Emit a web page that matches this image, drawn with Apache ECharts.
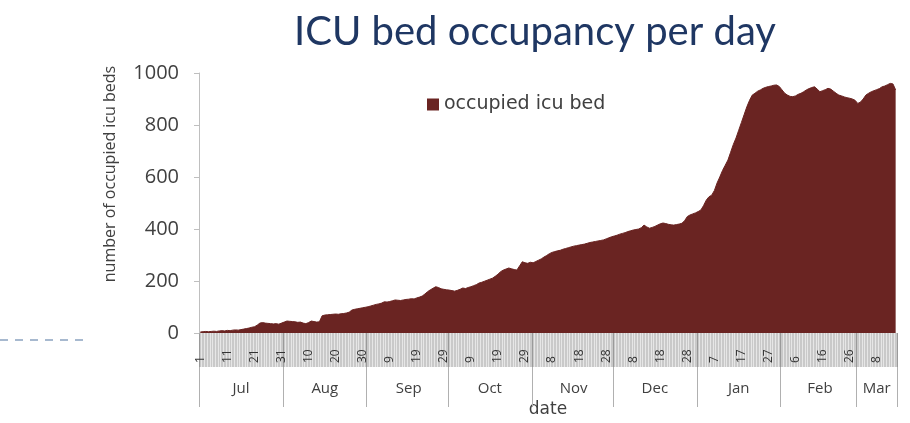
<!DOCTYPE html>
<html>
<head>
<meta charset="utf-8">
<title>ICU bed occupancy per day</title>
<script src="https://cdn.jsdelivr.net/npm/echarts@6/dist/echarts.min.js"></script>
<style>
  html, body { margin: 0; padding: 0; background: #fff; }
  #chart { width: 910px; height: 423px; }
</style>
</head>
<body>
<div id="chart"></div>
<script>
// occupied icu beds per day (Jul 2020 - Mar 2021)
var jul = [4, 5, 6, 5, 6, 7, 6, 8, 9, 8, 10, 9, 11, 12, 11, 13, 15, 17, 19, 22, 24, 30, 38, 40, 38, 37, 36, 35, 36, 34, 38]
var aug = [42, 46, 45, 44, 43, 41, 42, 38, 36, 40, 46, 44, 42, 43, 66, 69, 70, 71, 72, 73, 72, 74, 75, 77, 80, 88, 91, 93, 95, 97, 99]
var sep = [101, 104, 107, 110, 112, 115, 120, 119, 121, 124, 127, 126, 125, 127, 129, 130, 132, 131, 135, 138, 142, 150, 159, 166, 172, 178, 175, 170, 168, 166]
var oct = [165, 163, 161, 164, 168, 173, 171, 175, 178, 182, 186, 192, 195, 199, 203, 207, 211, 218, 226, 236, 242, 246, 250, 247, 244, 242, 258, 274, 270, 268, 272]
var nov = [270, 275, 280, 285, 292, 298, 305, 310, 313, 316, 318, 322, 325, 328, 331, 334, 336, 338, 340, 342, 345, 348, 350, 352, 354, 356, 358, 362, 366, 370]
var dec = [373, 376, 380, 383, 386, 390, 393, 396, 398, 400, 405, 415, 408, 403, 406, 410, 415, 420, 423, 421, 418, 416, 415, 417, 419, 422, 432, 448, 454, 458, 462]
var jan = [467, 473, 490, 511, 524, 530, 548, 577, 600, 625, 645, 665, 695, 725, 750, 780, 810, 840, 870, 895, 915, 922, 930, 935, 941, 945, 948, 950, 953, 954, 948]
var feb = [935, 922, 915, 910, 909, 912, 918, 922, 928, 935, 940, 944, 947, 938, 928, 932, 936, 941, 938, 930, 922, 915, 912, 908, 905, 903, 900, 895]
var mar = [883, 888, 900, 915, 922, 928, 932, 936, 940, 947, 950, 955, 960, 958, 935]

var monthNames = ['Jul', 'Aug', 'Sep', 'Oct', 'Nov', 'Dec', 'Jan', 'Feb', 'Mar']
var monthData = [jul, aug, sep, oct, nov, dec, jan, feb, mar]

var dates = []
var dayOfMonth = []
var monthStart = {}
var monthMid = {}
var values = []
monthData.forEach(function(arr, m) {
  monthStart[dates.length] = true
  monthMid[dates.length + Math.floor(arr.length / 2)] = monthNames[m]
  arr.forEach(function(v, d) {
    dates.push(monthNames[m] + ' ' + (d + 1))
    dayOfMonth.push(d + 1)
    values.push(v)
  })
})

var myChart = echarts.init(document.getElementById('chart'), null, { renderer: 'canvas' })

var labelFont = 'Open Sans'
var maroon = '#6a2422'

var option = {
  animation: false,
  title: {
    text: 'ICU bed occupancy per day',
    left: 289,
    top: 7,
    textStyle: { fontFamily: 'Lato', fontWeight: 'normal', fontSize: 40, color: '#1f3763' }
  },
  legend: {
    data: ['occupied icu bed'],
    left: 422,
    top: 90,
    icon: 'rect',
    itemWidth: 12,
    itemHeight: 12,
    itemGap: 4,
    textStyle: { fontFamily: 'DejaVu Sans', fontSize: 19, color: '#404040' }
  },
  grid: [
    { left: 199, right: 13, top: 73, height: 260 },
    { left: 199, right: 13, top: 333, height: 34, show: true, backgroundColor: '#c9c9c9', borderWidth: 0 }
  ],
  xAxis: [
    {
      type: 'category',
      gridIndex: 0,
      position: 'bottom',
      data: dates,
      axisLine: { show: false },
      axisTick: { show: false },
      axisLabel: { show: false }
    },
    {
      type: 'category',
      gridIndex: 1,
      position: 'bottom',
      data: dates,
      axisLine: { show: false },
      axisTick: { show: false },
      splitLine: { show: true, interval: 0, lineStyle: { color: '#e6e6e6', width: 1 } },
      axisLabel: {
        inside: true,
        rotate: 90,
        margin: 4,
        interval: function(index) { return index % 10 === 0 },
        formatter: function(value, index) { return dayOfMonth[index] },
        fontFamily: labelFont,
        fontSize: 12,
        color: '#333'
      }
    },
    {
      type: 'category',
      gridIndex: 1,
      position: 'bottom',
      offset: 0,
      data: dates,
      name: 'date',
      nameLocation: 'middle',
      nameGap: 34,
      nameTextStyle: { fontFamily: 'DejaVu Sans', fontSize: 17, color: '#404040' },
      axisLine: { show: false },
      axisTick: {
        show: true,
        interval: function(index) { return !!monthStart[index] },
        length: 40,
        lineStyle: { color: '#b0b0b0' }
      },
      splitLine: {
        show: true,
        interval: function(index) { return !!monthStart[index] },
        lineStyle: { color: '#9a9a9a' }
      },
      axisLabel: {
        interval: function(index) { return monthMid[index] !== undefined },
        formatter: function(value, index) { return monthMid[index] },
        hideOverlap: false,
        margin: 14,
        fontFamily: labelFont,
        fontSize: 15,
        color: '#404040'
      }
    }
  ],
  yAxis: [
    {
      type: 'value',
      gridIndex: 0,
      min: 0,
      max: 1000,
      interval: 200,
      axisLine: { show: true, lineStyle: { color: '#bfbfbf' } },
      axisTick: { show: true, length: 5, lineStyle: { color: '#bfbfbf' } },
      splitLine: { show: false },
      axisLabel: {
        margin: 20,
        formatter: function(v) { return String(v) },
        fontFamily: labelFont,
        fontSize: 20,
        color: '#404040'
      }
    },
    { type: 'value', gridIndex: 1, show: false }
  ],
  graphic: [
    {
      type: 'text',
      x: 110,
      y: 174,
      rotation: Math.PI / 2,
      style: {
        text: 'number of occupied icu beds',
        font: '16px "Open Sans"',
        fill: '#404040',
        textAlign: 'center',
        textVerticalAlign: 'middle'
      }
    },
    {
      type: 'line',
      shape: { x1: 0, y1: 340, x2: 86, y2: 340 },
      style: { stroke: '#8aa2c0', lineWidth: 1.5, lineDash: [8, 7] }
    }
  ],
  series: [
    {
      name: 'occupied icu bed',
      type: 'line',
      xAxisIndex: 0,
      yAxisIndex: 0,
      data: values,
      symbol: 'none',
      lineStyle: { color: maroon, width: 1 },
      itemStyle: { color: maroon },
      areaStyle: { color: maroon, opacity: 1 }
    }
  ]
}

option && myChart.setOption(option)
</script>
</body>
</html>
